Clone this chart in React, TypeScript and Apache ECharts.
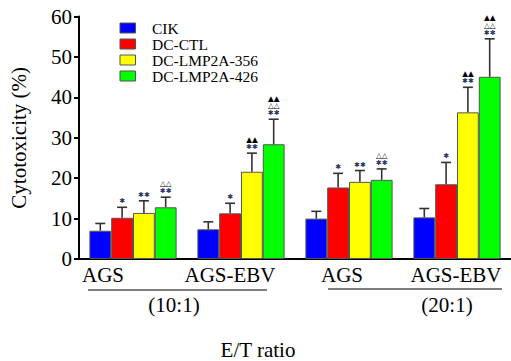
import React, { useEffect, useRef } from "react";
import * as echarts from "echarts";

// ---- data ----
const categories = ["AGS", "AGS-EBV", "AGS", "AGS-EBV"];
const ratioGroups = ["(10:1)", "(20:1)"];
const seriesNames = ["CIK", "DC-CTL", "DC-LMP2A-356", "DC-LMP2A-426"];
const seriesColors = ["#0000ff", "#ff0000", "#ffff00", "#00ff00"];

const cikMean = [7.0, 7.35, 10.0, 10.3];
const cikSd = [1.8, 1.85, 1.8, 2.2];
const dcCtlMean = [10.2, 11.3, 17.7, 18.5];
const dcCtlSd = [2.6, 2.5, 3.5, 5.4];
const lmp356Mean = [11.4, 21.6, 19.1, 36.3];
const lmp356Sd = [3.0, 4.6, 2.8, 6.2];
const lmp426Mean = [12.8, 28.4, 19.6, 45.1];
const lmp426Sd = [2.5, 6.2, 2.7, 9.4];

// significance marks, rows from bottom to top separated by "|"
const cikMarks = ["", "", "", ""];
const dcCtlMarks = ["*", "*", "*", "*"];
const lmp356Marks = ["**", "**|▲▲", "**", "**|▲▲"];
const lmp426Marks = ["**|△△", "**|△△|▲▲", "**|△△", "**|△△|▲▲"];

const yTicks = [0, 10, 20, 30, 40, 50, 60];

const means = [cikMean, dcCtlMean, lmp356Mean, lmp426Mean];
const sds = [cikSd, dcCtlSd, lmp356Sd, lmp426Sd];
const marks = [cikMarks, dcCtlMarks, lmp356Marks, lmp426Marks];

const BAR_W = 21.8;
const SERIF = "'Liberation Serif', 'Times New Roman', serif";

export default function App() {
  const ref = useRef<HTMLDivElement>(null);
  useEffect(() => {
    if (!ref.current) return;
    const chart = echarts.init(ref.current, undefined, { renderer: "svg" });

    const labelPads = [60, 22, 14, 2];
    const rich: any = {};
    labelPads.forEach((p, i) => {
      rich["g" + i] = {
        fontSize: 21,
        fontFamily: SERIF,
        color: "#000",
        padding: [0, p, 0, 0],
      };
    });

    const barSeries = seriesNames.map((name, s) => ({
      name,
      type: "bar",
      data: means[s],
      barWidth: BAR_W,
      barGap: "0%",
      itemStyle: { color: seriesColors[s], borderColor: "#555", borderWidth: 1 },
      z: 2,
    }));

    const errData: number[][] = [];
    for (let s = 0; s < 4; s++) {
      for (let c = 0; c < categories.length; c++) {
        errData.push([c, means[s][c], sds[s][c], s]);
      }
    }

    const errSeries = {
      type: "custom",
      name: "err",
      data: errData,
      z: 3,
      silent: true,
      renderItem: (params: any, api: any) => {
        const c = api.value(0);
        const m = api.value(1);
        const sd = api.value(2);
        const s = api.value(3);
        const base = api.coord([c, m]);
        const top = api.coord([c, m + sd]);
        const x = base[0] + (s - 1.5) * BAR_W;
        const children: any[] = [
          {
            type: "line",
            shape: { x1: x, y1: base[1], x2: x, y2: top[1] },
            style: { stroke: "#333", lineWidth: 1.6 },
          },
          {
            type: "line",
            shape: { x1: x - 5, y1: top[1], x2: x + 5, y2: top[1] },
            style: { stroke: "#333", lineWidth: 1.6 },
          },
        ];
        const mk = marks[s][c];
        if (mk) {
          mk.split("|").forEach((row: string, i: number) => {
            const isStar = row.indexOf("*") >= 0;
            const txt = isStar ? row.replace(/\*/g, "✱") : row;
            children.push({
              type: "text",
              x,
              y: top[1] - 6 - 7.5 * i,
              style: {
                text: txt,
                fontSize: isStar ? 7 : 7.5,
                fontWeight: "bold",
                fontFamily: "DejaVu Sans",
                fill: isStar ? "#2b3566" : "#000",
                align: "center",
                verticalAlign: "middle",
              },
            });
          });
        }
        return { type: "group", children };
      },
    };

    chart.setOption({
      animation: false,
      backgroundColor: "#fff",
      grid: { left: 79, top: 16.6, height: 242.4, right: -6 },
      legend: {
        data: seriesNames,
        orient: "vertical",
        left: 119.5,
        top: 20,
        padding: 0,
        itemWidth: 15.5,
        itemHeight: 10,
        itemGap: 0,
        icon: "rect",
        itemStyle: { borderColor: "#555", borderWidth: 1 },
        textStyle: {
          fontSize: 15.5,
          lineHeight: 15.5,
          fontFamily: SERIF,
          color: "#000",
          padding: [0, 0, 0, 11.5],
        },
      },
      xAxis: {
        type: "category",
        data: categories,
        axisLine: { lineStyle: { color: "#000", width: 2 } },
        axisTick: { show: false },
        axisLabel: {
          margin: 5,
          interval: 0,
          fontSize: 21,
          fontFamily: SERIF,
          color: "#000",
          formatter: (v: string, i: number) => `{g${i}|${v}}`,
          rich,
        },
      },
      yAxis: {
        type: "value",
        min: yTicks[0],
        max: yTicks[yTicks.length - 1],
        interval: 10,
        name: "Cytotoxicity (%)",
        nameLocation: "middle",
        nameGap: 50,
        nameTextStyle: { fontSize: 21, fontFamily: SERIF, color: "#000" },
        axisLine: { show: true, lineStyle: { color: "#000", width: 2 } },
        axisTick: { show: true, length: 5, lineStyle: { color: "#000", width: 2 } },
        splitLine: { show: false },
        axisLabel: { margin: 7, fontSize: 21, fontFamily: SERIF, color: "#000" },
      },
      graphic: [
        {
          type: "line",
          shape: { x1: 88, y1: 290, x2: 267, y2: 290 },
          style: { stroke: "#000", lineWidth: 1.2 },
        },
        {
          type: "line",
          shape: { x1: 328, y1: 289, x2: 502, y2: 289 },
          style: { stroke: "#000", lineWidth: 1.2 },
        },
        {
          type: "text",
          x: 174,
          y: 305,
          style: { text: ratioGroups[0], fontSize: 21, fontFamily: SERIF, fill: "#000", align: "center", verticalAlign: "middle" },
        },
        {
          type: "text",
          x: 447,
          y: 305,
          style: { text: ratioGroups[1], fontSize: 21, fontFamily: SERIF, fill: "#000", align: "center", verticalAlign: "middle" },
        },
        {
          type: "text",
          x: 258,
          y: 350,
          style: { text: "E/T ratio", fontSize: 21, fontFamily: SERIF, fill: "#000", align: "center", verticalAlign: "middle" },
        },
      ],
      series: [...barSeries, errSeries],
    });
    return () => chart.dispose();
  }, []);
  return (
    <div
      ref={ref}
      style={{ position: "fixed", left: 0, top: 0, width: 511, height: 361 }}
    />
  );
}
